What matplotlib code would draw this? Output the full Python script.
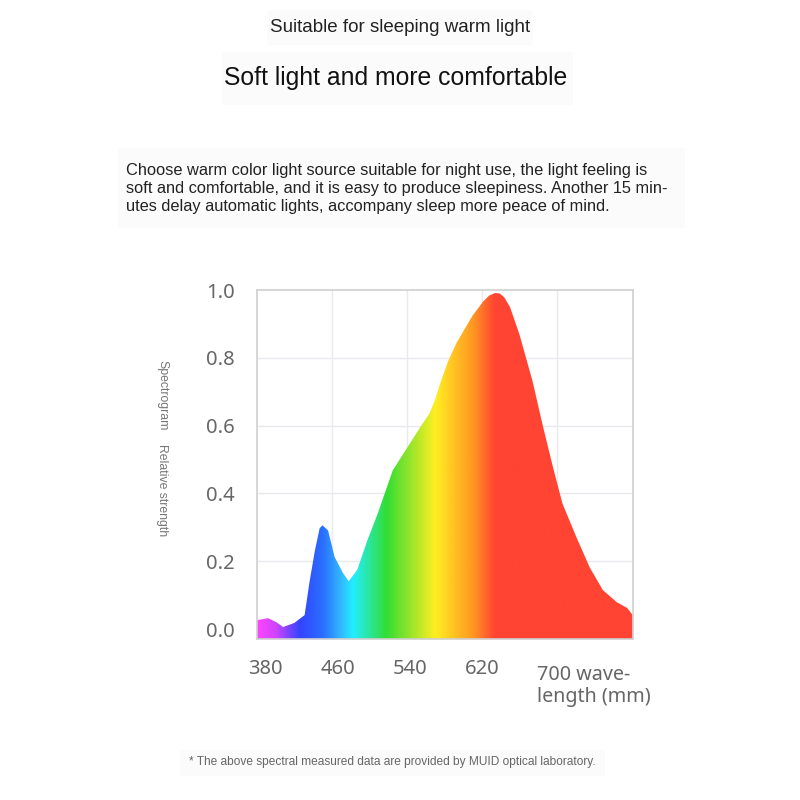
import matplotlib
matplotlib.use("Agg")
import matplotlib.pyplot as plt
import matplotlib.patches as patches
from matplotlib.colors import LinearSegmentedColormap
import numpy as np

# Spectrum
wavelengths = [380, 392, 401, 408, 420, 431, 436, 442, 447, 450, 456, 463, 472,
               478, 487, 498, 509, 525, 554, 564, 570, 576, 584, 593, 610, 622,
               628, 634, 639, 644, 650, 660, 674, 685, 696, 706, 721, 735, 749,
               764, 775, 781]
strength = [0.026, 0.032, 0.020, 0.006, 0.018, 0.041, 0.135, 0.232, 0.297, 0.306,
            0.291, 0.212, 0.165, 0.141, 0.174, 0.262, 0.341, 0.468, 0.594, 0.635,
            0.675, 0.728, 0.790, 0.844, 0.924, 0.968, 0.984, 0.991, 0.990, 0.978,
            0.950, 0.870, 0.732, 0.600, 0.476, 0.370, 0.270, 0.182, 0.115, 0.079,
            0.062, 0.041]

y_ticks = [0.0, 0.2, 0.4, 0.6, 0.8, 1.0]
x_ticks = [380, 460, 540, 620]
x_grid = [460, 540, 620, 700]

# Colour stops of the spectrum fill (wavelength, colour)
stop_wl = [380, 400, 425, 450, 470, 482, 518, 570, 610, 634, 781]
stop_col = ['#ff44ff', '#cc44ff', '#3344ff', '#2a70ff', '#33bbff', '#22eeff',
            '#33dd33', '#ffee22', '#ff9922', '#ff4433', '#ff4433']

TEXT_FONT = ['Liberation Sans', 'DejaVu Sans']
TICK_FONT = ['Noto Sans', 'DejaVu Sans']

fig = plt.figure(figsize=(8, 8), dpi=100)
fig.patch.set_facecolor('white')

# faint boxes behind the text blocks (figure pixels: x, y-top, w, h)
for bx, by, bw, bh in [(267, 10, 266, 35), (222, 52, 351, 53), (118, 148, 567, 80),
                       (180, 750, 425, 26)]:
    fig.patches.append(patches.Rectangle((bx / 800, 1 - (by + bh) / 800), bw / 800, bh / 800,
                                         transform=fig.transFigure,
                                         facecolor='#fbfbfb', edgecolor='none'))

fig.text(0.5, 0.966, 'Suitable for sleeping warm light', ha='center', va='center',
         fontsize=13.5, color='#222222', family=TEXT_FONT)
fig.text(0.494, 0.902, 'Soft light and more comfortable', ha='center', va='center',
         fontsize=17.8, color='#111111', family=TEXT_FONT)
fig.text(0.158, 0.765,
         'Choose warm color light source suitable for night use, the light feeling is\n'
         'soft and comfortable, and it is easy to produce sleepiness. Another 15 min-\n'
         'utes delay automatic lights, accompany sleep more peace of mind.',
         ha='left', va='center', fontsize=11.8, color='#222222', family=TEXT_FONT,
         linespacing=1.25)
fig.text(0.491, 0.0475, '* The above spectral measured data are provided by MUID optical laboratory.',
         ha='center', va='center', fontsize=8.6, color='#666666', family=TEXT_FONT)

ax = fig.add_axes([0.321, 0.201, 0.47, 0.4365])
y_bottom = -0.03
y_top = 1.0
ax.set_xlim(380, 781)
ax.set_ylim(y_bottom, y_top)

# gradient clipped to the area under the curve
cmap = LinearSegmentedColormap.from_list(
    'spec', [((w - 380) / 401, c) for w, c in zip(stop_wl, stop_col)])
grad = np.linspace(0, 1, 800).reshape(1, -1)
img = ax.imshow(grad, cmap=cmap, extent=[380, 781, y_bottom, y_top], aspect='auto',
                zorder=2, interpolation='bilinear')
poly_x = [wavelengths[0]] + wavelengths + [wavelengths[-1]]
poly_y = [y_bottom] + strength + [y_bottom]
clip = patches.Polygon(np.column_stack([poly_x, poly_y]), closed=True,
                       facecolor='none', edgecolor='none', transform=ax.transData)
ax.add_patch(clip)
img.set_clip_path(clip)

# grid and frame
for x in x_grid:
    ax.axvline(x, color='#e9e9ef', lw=1, zorder=1)
for y in y_ticks[1:-1]:
    ax.axhline(y, color='#e9e9ef', lw=1, zorder=1)
for s in ax.spines.values():
    s.set_color('#cfcfcf')
    s.set_linewidth(1.2)

ax.set_yticks(y_ticks)
ax.set_yticklabels([f'{v:.1f}' for v in y_ticks], family=TICK_FONT, fontsize=14.5,
                   color='#666666')
ax.set_xticks(x_ticks)
ax.set_xticklabels([str(v) for v in x_ticks], family=TICK_FONT, fontsize=14.5,
                   color='#666666')
ax.tick_params(length=0, pad=14)
ax.tick_params(axis='y', pad=16)
# nudge tick labels a bit to the right as in the reference
for lbl, dx in zip(ax.get_xticklabels(), [9, 6, 3, 0]):
    lbl.set_transform(lbl.get_transform() + matplotlib.transforms.Affine2D().translate(dx, 0))
ax.text(700 - 21, -0.105, '700 wave-\nlength (mm)', transform=ax.transData,
        ha='left', va='top', family=TICK_FONT, fontsize=14.2, color='#666666',
        linespacing=1.15, clip_on=False)

# rotated y-axis caption
fig.text(0.203, 0.506, 'Spectrogram', rotation=270, ha='center', va='center',
         fontsize=8.8, color='#777777', family=TEXT_FONT)
fig.text(0.203, 0.3875, 'Relative strength', rotation=270, ha='center', va='center',
         fontsize=8.8, color='#777777', family=TEXT_FONT)

fig.savefig('out.png', dpi=100, facecolor='white')
